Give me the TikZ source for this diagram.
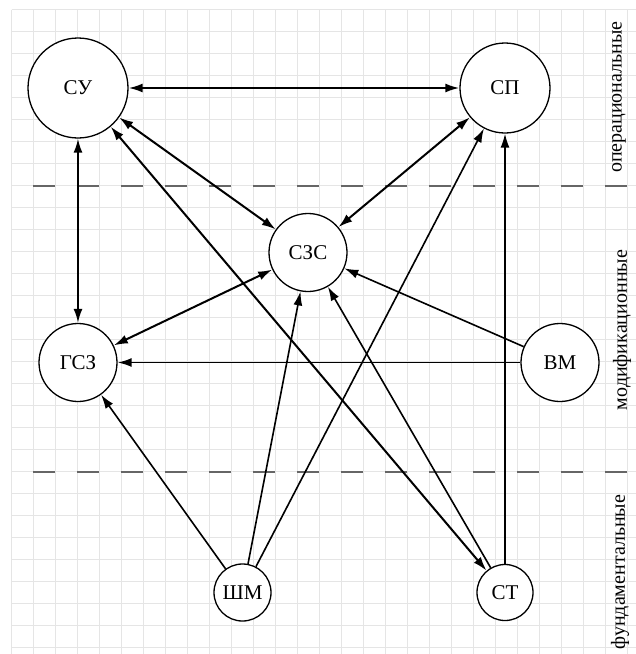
\documentclass[tikz,border=0pt]{standalone}
\usepackage{fontspec}
\setmainfont{Liberation Serif}
\usetikzlibrary{arrows.meta}

\begin{document}
\begin{tikzpicture}[x=1pt,y=-1pt,
state/.style={circle,draw,line width=1.3pt,fill=white,inner sep=0pt,font=\fontsize{21}{22}\selectfont},
both/.style={{Latex[length=14pt,width=9pt]}-{Latex[length=14pt,width=9pt]},line width=2pt},
arr/.style={-{Latex[length=14pt,width=9pt]},line width=1.6pt},
gridline/.style={draw=black!10,line width=0.8pt},
level/.style={draw=black!60,line width=1.1pt,dash pattern=on 22pt off 22pt,dash phase=22pt},
lvl/.style={rotate=90,font=\fontsize{20}{21}\selectfont}]
\useasboundingbox (0,0) rectangle (636,654);
\fill[white] (0,0) rectangle (636,654);
% grid
\foreach \i in {0,...,28} \draw[gridline] (11.5+22*\i,9.5) -- (11.5+22*\i,654);
\foreach \j in {0,...,29} \draw[gridline] (11.5,9.5+22*\j) -- (636,9.5+22*\j);
% levels
\draw[level] (11,186) -- (636,186);
\draw[level] (11,472) -- (636,472);
\node[lvl] (lop) at (619,97) {операциональные};
\node[lvl] (lmod) at (622,330) {модификационные};
\node[lvl] (lfund) at (620,572) {фундаментальные};
% states
\node[state,minimum size=100pt] (su) at (78,88) {СУ};
\node[state,minimum size=90pt] (sp) at (505,88) {СП};
\node[state,minimum size=78pt] (szs) at (308,252.5) {СЗС};
\node[state,minimum size=78pt] (gsz) at (78,362.5) {ГСЗ};
\node[state,minimum size=78pt] (vm) at (560,362.5) {ВМ};
\node[state,minimum size=57pt] (shm) at (242.5,592.5) {ШМ};
\node[state,minimum size=56pt] (st) at (505,592.5) {СТ};
% links
\draw[both] (su) -- (sp);
\draw[both] (su) -- (gsz);
\draw[both] (su) -- (szs);
\draw[both] (su) -- (st);
\draw[both] (sp) -- (szs);
\draw[both] (gsz) -- (szs);
\draw[arr,line width=1.8pt] (vm) -- (gsz);
\draw[arr] (vm) -- (szs);
\draw[arr,line width=1.6pt] (st) -- (sp);
\draw[arr] (st) -- (szs);
\draw[arr] (shm) -- (sp);
\draw[arr] (shm) -- (szs);
\draw[arr] (shm) -- (gsz);
\end{tikzpicture}
\end{document}
